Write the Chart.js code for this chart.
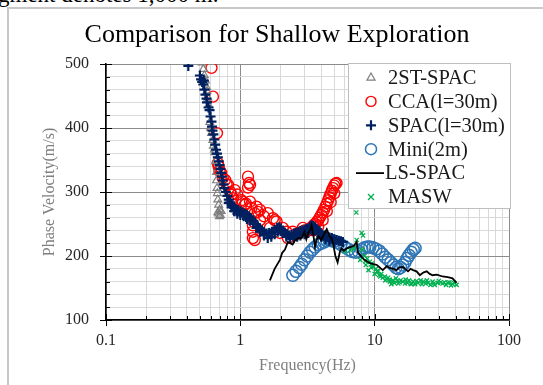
<!DOCTYPE html>
<html>
<head>
<meta charset="utf-8">
<script src="https://cdn.jsdelivr.net/npm/chart.js"></script>
<style>
  html, body { margin: 0; padding: 0; background: #fff; overflow: hidden; }
  #page { position: relative; width: 543px; height: 385px; overflow: hidden; }
  #caption { position: absolute; left: -2px; top: -18px; font: 23px "Liberation Serif", "Times New Roman", serif; color: #000; white-space: nowrap; }
  #frame { position: absolute; left: 7px; top: 7px; width: 560px; height: 400px; border: 2px solid #c8c8c8; box-sizing: border-box; }
  #chart { position: absolute; left: 0; top: 0; }
</style>
</head>
<body>
<div id="page">
  <div id="caption">gment denotes 1,000 m.</div>
  <div id="frame"></div>
  <canvas id="chart" width="543" height="385"></canvas>
</div>
<script>
// 2ST-SPAC
const tstFreq = [0.52, 0.53, 0.54, 0.55, 0.56, 0.565, 0.573, 0.58, 0.593, 0.60, 0.61, 0.624, 0.63, 0.64, 0.645, 0.655, 0.665, 0.665, 0.67, 0.675, 0.68, 0.69, 0.70, 0.69, 0.70, 0.71, 0.68, 0.72];
const tstVel  = [502, 492, 482, 474, 464, 458, 447, 436, 409, 400, 392, 381, 372, 366, 362, 348, 331, 318, 306, 298, 288, 280, 272, 266, 262, 264, 268, 270];

// CCA(l=30m)
const ccaFreq = [0.61, 0.625, 0.67, 0.68, 0.69, 0.70, 0.72, 0.74, 0.77, 0.79, 0.81, 0.84, 0.86, 0.88, 0.91, 0.95, 1.02, 1.04, 1.08, 1.1,
  1.14, 1.14, 1.16, 1.18, 1.18, 1.21, 1.24, 1.24, 1.24, 1.28, 1.28, 1.32, 1.35, 1.4, 1.4, 1.5, 1.6, 1.66, 1.75, 1.8,
  1.86, 1.97, 2.07, 2.2, 2.26, 2.46, 2.6, 2.75, 2.92, 3.0, 3.1, 3.2, 3.3, 3.4, 3.5, 3.6, 3.7, 3.8, 3.9, 4.0,
  4.1, 4.2, 4.3, 4.4, 4.5, 4.6, 4.7, 4.8, 4.9, 5.0, 5.1, 5.2, 3.5, 3.8, 4.1, 4.4, 4.7, 5.0];
const ccaVel  = [494, 449, 392, 345, 340, 333, 330, 322, 319, 312, 311, 300, 296, 290, 303, 296, 287, 285, 280, 282,
  324, 307, 314, 311, 285, 275, 248, 238, 228, 267, 225, 277, 269, 272, 256, 262, 267, 244, 259, 256,
  254, 236, 244, 238, 228, 238, 234, 236, 244, 240, 238, 240, 242, 245, 248, 250, 253, 256, 260, 264,
  268, 272, 277, 282, 287, 292, 297, 302, 306, 310, 313, 314, 240, 246, 256, 270, 284, 298];

// SPAC(l=30m)
const spacFreq = [0.41, 0.50, 0.51, 0.52, 0.53, 0.535, 0.54, 0.55, 0.56, 0.565, 0.58, 0.59, 0.60, 0.61, 0.615, 0.62, 0.63, 0.64, 0.65, 0.66,
  0.67, 0.68, 0.69, 0.70, 0.71, 0.72, 0.73, 0.74, 0.75, 0.76, 0.78, 0.80, 0.82, 0.84, 0.86, 0.88, 0.90, 0.93, 0.96, 1.0,
  1.04, 1.08, 1.12, 1.16, 1.2, 1.25, 1.3, 1.35, 1.4, 1.45, 1.5, 1.57, 1.64, 1.72, 1.8, 1.88, 1.95, 2.0, 2.07, 2.15,
  2.22, 2.3, 2.4, 2.5, 2.6, 2.7, 2.8, 2.9, 3.0, 3.1, 3.2, 3.3, 3.4, 3.5, 3.6, 3.7, 3.8, 3.9, 4.0, 4.2,
  4.4, 4.6, 4.8, 5.0, 5.2, 5.4, 5.6, 5.8,
  0.82, 0.86, 0.9, 0.95, 1.0, 1.06, 1.12, 1.18, 1.25, 1.32, 1.4, 1.5, 1.6, 1.7, 1.8, 1.9, 2.0, 2.1, 2.2, 2.35,
  2.5, 2.65, 2.8, 3.0, 3.2, 3.4, 3.6, 3.8, 4.0, 4.3, 4.6, 5.0];
const spacVel  = [497, 482, 476, 472, 468, 474, 460, 452, 446, 440, 432, 428, 418, 410, 402, 396, 390, 382, 374, 366,
  360, 354, 348, 342, 336, 330, 324, 318, 312, 306, 300, 294, 288, 284, 280, 277, 275, 273, 272, 270,
  268, 266, 264, 262, 259, 255, 250, 246, 243, 240, 237, 235, 236, 238, 241, 244, 245, 243, 240, 236,
  234, 232, 233, 235, 236, 238, 239, 240, 241, 242, 243, 246, 248, 247, 245, 242, 239, 237, 235, 232,
  230, 229, 228, 226, 225, 224, 223, 222,
  283, 276, 270, 266, 264, 262, 258, 255, 250, 244, 238, 232, 228, 230, 234, 238, 239, 236, 230, 227,
  228, 230, 232, 234, 236, 240, 240, 234, 230, 226, 224, 221];

// Mini(2m)
const miniFreq = [2.46, 2.6, 2.75, 2.86, 3.0, 3.15, 3.3, 3.45, 3.6, 3.8, 4.0, 4.2, 4.4, 4.6, 4.8, 5.0, 5.3, 5.6, 6.0, 6.4,
  6.8, 7.2, 7.6, 8.0, 8.4, 8.8, 9.2, 9.7, 10.2, 10.8, 11.4, 12.0, 12.6, 13.2, 13.8, 14.4, 15.0, 15.6, 16.2, 16.8,
  17.4, 18.0, 18.7, 19.4, 20.0];
const miniVel  = [170, 176, 182, 187, 194, 200, 206, 210, 214, 218, 220, 222, 224, 225, 224, 223, 221, 218, 214, 210,
  207, 206, 207, 210, 213, 214, 214, 213, 211, 208, 203, 198, 194, 190, 186, 182, 180, 182, 186, 190,
  196, 201, 206, 210, 212];

// LS-SPAC
const lsFreq = [1.66, 1.8, 1.97, 2.05, 2.15, 2.26, 2.35, 2.45, 2.55, 2.7, 2.86, 3.0, 3.1, 3.2, 3.3, 3.39, 3.5, 3.6, 3.7, 3.85,
  4.0, 4.2, 4.4, 4.6, 4.77, 4.9, 5.1, 5.3, 5.5, 5.65, 5.9, 6.2, 6.6, 7.0, 7.35, 7.5, 7.95, 8.4, 9.2, 10.4,
  11.5, 12.3, 13.0, 13.8, 14.5, 15.2, 16.2, 17.0, 17.7, 18.5, 19.3, 20.5, 21.7, 23.0, 24.4, 25.7, 27.0, 29.0, 32.0, 35.0,
  38.0, 40.7];
const lsVel  = [162, 180, 194, 205, 210, 222, 220, 218, 224, 228, 228, 238, 226, 236, 240, 248, 232, 214, 226, 230,
  225, 234, 242, 232, 228, 220, 200, 190, 206, 212, 208, 212, 214, 216, 222, 206, 199, 194, 189, 186,
  178, 184, 181, 180, 178, 182, 183, 179, 176, 180, 178, 176, 170, 174, 176, 172, 170, 171, 168, 167,
  165, 158];

// MASW
const maswFreq = [6.0, 6.6, 7.0, 7.3, 7.35, 7.8, 8.0, 8.2, 8.4, 8.6, 8.8, 9.0, 9.2, 9.7, 10.0, 10.2, 10.6, 11.0, 11.2, 11.9,
  12.0, 12.6, 13.0, 13.7, 14.8, 15.0, 16.2, 17.5, 18.0, 19.3, 21.0, 22.0, 23.0, 25.0, 26.0, 27.0, 29.5, 30.0, 32.0, 34.0,
  35.0, 38.0, 40.7, 9.5, 10.8, 12.3, 14.0, 16.8, 20.0, 24.0, 28.0, 33.0, 37.0,
  8.1, 8.5, 9.4, 10.4, 11.5, 12.9, 14.4, 15.6, 17.0, 18.6, 20.5, 22.5, 24.5, 27.5, 31.0, 36.0, 39.0, 13.3, 15.3, 19.0];
const maswVel  = [207, 209, 212, 268, 225, 194, 236, 232, 200, 186, 196, 178, 191, 183, 172, 180, 176, 168, 172, 168,
  162, 166, 160, 162, 161, 157, 160, 158, 162, 160, 158, 162, 160, 158, 155, 160, 158, 161, 157, 155,
  158, 156, 155, 188, 170, 164, 158, 157, 156, 157, 155, 159, 154,
  210, 192, 182, 176, 166, 163, 165, 162, 163, 156, 161, 156, 162, 157, 159, 159, 158, 156, 159, 157];

const yTicks = [100, 200, 300, 400, 500];

const toPoints = (fs, vs) => fs.map((f, i) => ({ x: f, y: vs[i] }));

const isDecade = v => Math.abs(Math.log10(v) - Math.round(Math.log10(v))) < 1e-6;

Chart.defaults.font.family = '"Liberation Serif", "Times New Roman", serif';

// short black tick marks drawn inward from the axis lines
const innerTicks = {
  id: 'innerTicks',
  beforeDatasetsDraw(chart) {
    const { ctx, chartArea, scales: { x, y } } = chart;
    ctx.save();
    ctx.strokeStyle = '#000';
    ctx.lineWidth = 1;
    y.ticks.forEach(t => {
      const py = Math.round(y.getPixelForValue(t.value)) + 0.5;
      const len = t.value % 100 === 0 ? 6 : 4;
      ctx.beginPath();
      ctx.moveTo(chartArea.left, py);
      ctx.lineTo(chartArea.left + len, py);
      ctx.stroke();
    });
    x.ticks.forEach(t => {
      const px = Math.round(x.getPixelForValue(t.value)) + 0.5;
      const len = isDecade(t.value) ? 6 : 4;
      ctx.beginPath();
      ctx.moveTo(px, chartArea.bottom);
      ctx.lineTo(px, chartArea.bottom - len);
      ctx.stroke();
    });
    ctx.restore();
  }
};

function drawMarker(ctx, ds, cx, cy) {
  ctx.save();
  ctx.strokeStyle = ds.borderColor;
  ctx.lineWidth = ds.borderWidth;
  const r = ds.pointRadius;
  ctx.beginPath();
  if (ds.showLine) {
    ctx.moveTo(cx - 15, cy);
    ctx.lineTo(cx + 13, cy);
  } else if (ds.pointStyle === 'circle') {
    ctx.arc(cx, cy, r - 0.5, 0, Math.PI * 2);
  } else if (ds.pointStyle === 'triangle') {
    ctx.moveTo(cx, cy - r);
    ctx.lineTo(cx + r * 0.9, cy + r * 0.6);
    ctx.lineTo(cx - r * 0.9, cy + r * 0.6);
    ctx.closePath();
  } else if (ds.pointStyle === 'cross') {
    ctx.moveTo(cx - r, cy); ctx.lineTo(cx + r, cy);
    ctx.moveTo(cx, cy - r); ctx.lineTo(cx, cy + r);
  } else {
    ctx.moveTo(cx - r, cy - r); ctx.lineTo(cx + r, cy + r);
    ctx.moveTo(cx + r, cy - r); ctx.lineTo(cx - r, cy + r);
  }
  ctx.stroke();
  ctx.restore();
}

// boxed legend sitting over the top-right of the plot
const boxLegend = {
  id: 'boxLegend',
  afterDraw(chart) {
    const { ctx } = chart;
    const left = 348, top = 63, width = 162, height = 145;
    ctx.save();
    ctx.fillStyle = '#fff';
    ctx.fillRect(left, top, width, height);
    ctx.strokeStyle = '#bfbfbf';
    ctx.lineWidth = 1;
    ctx.strokeRect(left + 0.5, top + 0.5, width, height);
    ctx.font = '20.5px "Liberation Serif", "Times New Roman", serif';
    ctx.fillStyle = '#1a1a1a';
    ctx.textBaseline = 'middle';
    chart.data.datasets.forEach((ds, i) => {
      const cy = 77.5 + i * 23.9;
      drawMarker(ctx, ds, 371, cy);
      ctx.fillText(ds.label, ds.showLine ? 385 : 388, cy + 1);
    });
    ctx.restore();
  }
};

new Chart(document.getElementById('chart'), {
  type: 'scatter',
  data: {
    datasets: [
      {
        label: '2ST-SPAC', data: toPoints(tstFreq, tstVel), order: 3,
        pointStyle: 'triangle', pointRadius: 4.5, borderColor: '#7f7f7f', backgroundColor: 'rgba(0,0,0,0)', borderWidth: 1.2
      },
      {
        label: 'CCA(l=30m)', data: toPoints(ccaFreq, ccaVel), order: 5,
        pointStyle: 'circle', pointRadius: 5.5, borderColor: '#ff0000', backgroundColor: 'rgba(0,0,0,0)', borderWidth: 1.4
      },
      {
        label: 'SPAC(l=30m)', data: toPoints(spacFreq, spacVel), order: 1,
        pointStyle: 'cross', pointRadius: 5, borderColor: '#002060', backgroundColor: '#002060', borderWidth: 2.2
      },
      {
        label: 'Mini(2m)', data: toPoints(miniFreq, miniVel), order: 4,
        pointStyle: 'circle', pointRadius: 6, borderColor: '#2e75b6', backgroundColor: 'rgba(0,0,0,0)', borderWidth: 1.5
      },
      {
        label: 'LS-SPAC', data: toPoints(lsFreq, lsVel), order: 0,
        showLine: true, pointRadius: 0, borderColor: '#000', borderWidth: 1.8, tension: 0
      },
      {
        label: 'MASW', data: toPoints(maswFreq, maswVel), order: 2,
        pointStyle: 'crossRot', pointRadius: 3, borderColor: '#00b050', backgroundColor: '#00b050', borderWidth: 1.3
      }
    ]
  },
  options: {
    responsive: false,
    animation: false,
    events: [],
    layout: { padding: { left: 45, right: 34, top: 0, bottom: 0 } },
    scales: {
      x: {
        type: 'logarithmic',
        min: 0.1,
        max: 100,
        afterFit: s => { s.height = 65; },
        afterBuildTicks: s => {
          const ticks = [];
          [0.1, 1, 10].forEach(d => {
            for (let k = 1; k < 10; k++) ticks.push({ value: +(d * k).toPrecision(3) });
          });
          ticks.push({ value: 100 });
          s.ticks = ticks;
        },
        ticks: {
          autoSkip: false,
          maxRotation: 0,
          padding: 5,
          color: '#262626',
          font: { size: 16 },
          callback: v => isDecade(v) ? String(v) : ''
        },
        grid: {
          color: c => isDecade(c.tick.value) ? '#8c8c8c' : '#d9d9d9',
          tickColor: c => isDecade(c.tick.value) ? '#000' : 'rgba(0,0,0,0)',
          tickLength: 6
        },
        border: { color: '#000', width: 1.5 },
        title: {
          display: true,
          text: 'Frequency(Hz)',
          color: '#7f7f7f',
          font: { size: 16 },
          padding: { top: 0, bottom: 10 }
        }
      },
      y: {
        min: 100,
        max: 500,
        afterFit: s => { s.width = 61; },
        ticks: {
          stepSize: 20,
          autoSkip: false,
          padding: 11,
          color: '#262626',
          font: { size: 16 },
          callback: v => yTicks.includes(v) ? String(v) : ''
        },
        grid: {
          color: c => c.tick.value % 100 === 0 ? '#8c8c8c' : '#d9d9d9',
          tickColor: c => c.tick.value % 100 === 0 ? '#000' : 'rgba(0,0,0,0)',
          tickLength: 6
        },
        border: { color: '#000', width: 1.5 },
        title: {
          display: true,
          text: 'Phase Velocity(m/s)',
          color: '#7f7f7f',
          font: { size: 16 },
          padding: { top: -5, bottom: 0 }
        }
      }
    },
    plugins: {
      legend: { display: false },
      tooltip: { enabled: false },
      title: {
        display: true,
        text: 'Comparison for Shallow Exploration',
        color: '#000',
        font: { size: 26, weight: 'normal' },
        padding: { top: 20, bottom: 12.8 }
      }
    }
  },
  plugins: [innerTicks, boxLegend]
});
</script>
</body>
</html>
